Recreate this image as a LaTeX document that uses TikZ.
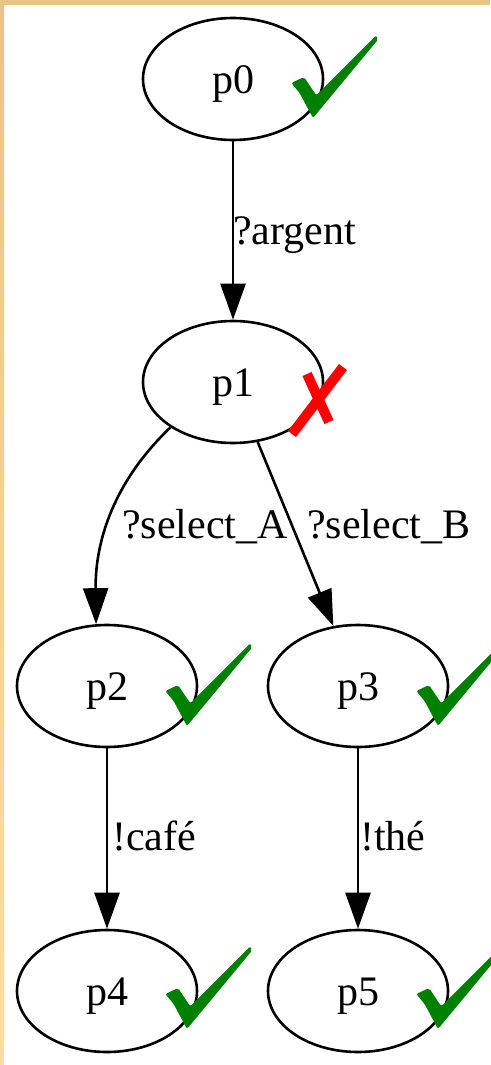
\documentclass[tikz,border=0pt]{standalone}
\usepackage{fontspec}
\setmainfont{Liberation Serif}
\usetikzlibrary{arrows.meta,shapes.geometric}
\definecolor{frametan}{HTML}{E8C585}
\definecolor{framelight}{HTML}{FFDDA0}
\definecolor{okgreen}{HTML}{008000}
\definecolor{badred}{HTML}{FF0000}
\begin{document}
\begin{tikzpicture}[x=1pt,y=-1pt,
  state/.style={ellipse,draw=black,line width=2.6pt,minimum width=180pt,minimum height=122pt,
    inner sep=0pt,font=\fontsize{42}{42}\selectfont,text height=28pt,text depth=0pt},
  edge/.style={draw=black,line width=2.6pt,-{Triangle[length=36pt,width=25pt]}},
  elabel/.style={font=\fontsize{42}{42}\selectfont,inner sep=0pt,anchor=base west},
  chk/.pic={\fill[okgreen,rounded corners=2pt] (-21.7,-35) -- (-9,-41) -- (3.3,-22.7) -- (63.3,-82.7)
     -- (65,-78.4) -- (0,0) -- (-13.4,-25) -- cycle;},
  crossstroke/.style={draw=badred,line width=10pt}]
\useasboundingbox (0,0) rectangle (490,1065);
\fill[white] (0,0) rectangle (490,1065);
\shade[top color=frametan,bottom color=framelight] (0,0) rectangle (4,1065);
\fill[frametan] (0,0) rectangle (490,5);

\node[state] (p0) at (233,79) {p0};
\node[state] (p1) at (233,382) {p1};
\node[state] (p2) at (107,686) {p2};
\node[state] (p3) at (358,686) {p3};
\node[state] (p4) at (107,991) {p4};
\node[state] (p5) at (358,991) {p5};

\draw[edge] (p0) -- (p1);
\draw[edge] (p1.216) .. controls (115,480) and (95,540) .. (p2.100);
\draw[edge] (p1) -- (p3);
\draw[edge] (p2) -- (p4);
\draw[edge] (p3) -- (p5);

\node[elabel] (la) at (233,244) {?argent};
\node[elabel] (lsa) at (122,538) {?select\_A};
\node[elabel] (lsb) at (307,538) {?select\_B};
\node[elabel] (lc) at (112,850) {!café};
\node[elabel] (lt) at (360,850) {!thé};

\pic at ([shift={(80,39)}]p0.center) {chk};
\pic at ([shift={(80,40)}]p2.center) {chk};
\pic at ([shift={(80,40)}]p3.center) {chk};
\pic at ([shift={(80,38)}]p4.center) {chk};
\pic at ([shift={(80,38)}]p5.center) {chk};

\draw[crossstroke] ([shift={(74,-8)}]p1.center) -- ([shift={(96,40)}]p1.center);
\draw[crossstroke] ([shift={(110,-15)}]p1.center) -- ([shift={(59,52)}]p1.center);
\end{tikzpicture}
\end{document}
